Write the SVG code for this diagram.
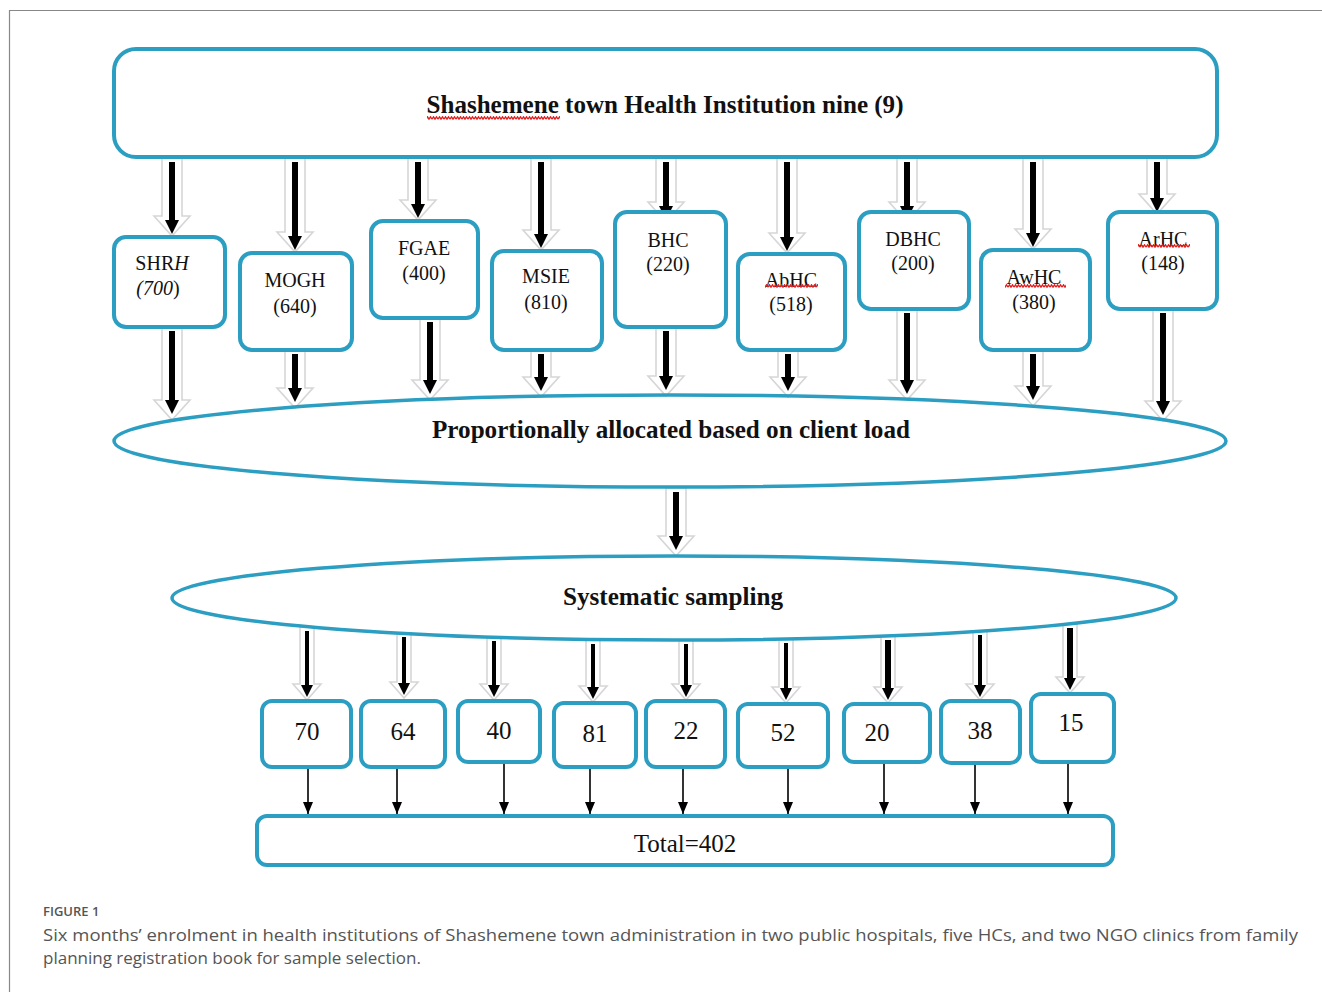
<svg xmlns="http://www.w3.org/2000/svg" width="1322" height="992" viewBox="0 0 1322 992">
<style>
.box{fill:#fff;stroke:#2b9ec1;stroke-width:4}
.ga{fill:#fff;stroke:#d6d6d6;stroke-width:1.6}
.bk{stroke:#000;stroke-width:6}
.bks{stroke:#000;stroke-width:4}
.bh{fill:#000}
.thin{stroke:#000;stroke-width:1.6;marker-end:url(#ah)}
.lbl{font-family:"Liberation Serif","Times New Roman",serif;font-size:20px;fill:#111;text-anchor:middle}
.num{font-family:"Liberation Serif","Times New Roman",serif;font-size:25px;fill:#111;text-anchor:middle}
.ttl{font-family:"Liberation Serif","Times New Roman",serif;font-size:25px;font-weight:bold;fill:#111;text-anchor:middle}
.cap{font-family:"Open Sans","Noto Sans",sans-serif;fill:#555}
.sq{fill:url(#squig)}
</style>
<defs>
<marker id="ah" viewBox="0 0 12 10" refX="12" refY="5" markerWidth="12" markerHeight="10" markerUnits="userSpaceOnUse" orient="auto">
<path d="M0,0 L12,5 L0,10 Z" fill="#000"/>
</marker>
<pattern id="squig" x="0" y="0" width="6" height="4" patternUnits="userSpaceOnUse">
<path d="M0,3.2 L1.5,0.8 L3,3.2 L4.5,0.8 L6,3.2" fill="none" stroke="#e02020" stroke-width="1.3"/>
</pattern>
</defs>
<rect width="1322" height="992" fill="#fff"/>
<path d="M1322,10.5 H9.5 V992" fill="none" stroke="#888" stroke-width="1.2"/>

<g id="connectors">
<g id="c-top">
<polygon class="ga" points="162,158 182,158 182,216 190,216 172,236 154,216 162,216"/>
<line class="bk" x1="172" y1="162" x2="172" y2="222"/><polygon class="bh" points="165,220 179,220 172,234"/>
<polygon class="ga" points="285,158 305,158 305,232 313,232 295,252 277,232 285,232"/>
<line class="bk" x1="295" y1="162" x2="295" y2="238"/><polygon class="bh" points="288,236 302,236 295,250"/>
<polygon class="ga" points="408,158 428,158 428,200 436,200 418,220 400,200 408,200"/>
<line class="bk" x1="418" y1="162" x2="418" y2="206"/><polygon class="bh" points="411,204 425,204 418,218"/>
<polygon class="ga" points="531,158 551,158 551,230 559,230 541,250 523,230 531,230"/>
<line class="bk" x1="541" y1="162" x2="541" y2="236"/><polygon class="bh" points="534,234 548,234 541,248"/>
<polygon class="ga" points="656,158 676,158 676,202 684,202 666,222 648,202 656,202"/>
<line class="bk" x1="666" y1="162" x2="666" y2="208"/><polygon class="bh" points="659,206 673,206 666,220"/>
<polygon class="ga" points="777,158 797,158 797,233 805,233 787,253 769,233 777,233"/>
<line class="bk" x1="787" y1="162" x2="787" y2="239"/><polygon class="bh" points="780,237 794,237 787,251"/>
<polygon class="ga" points="897,158 917,158 917,202 925,202 907,222 889,202 897,202"/>
<line class="bk" x1="907" y1="162" x2="907" y2="208"/><polygon class="bh" points="900,206 914,206 907,220"/>
<polygon class="ga" points="1023,158 1043,158 1043,229 1051,229 1033,249 1015,229 1023,229"/>
<line class="bk" x1="1033" y1="162" x2="1033" y2="235"/><polygon class="bh" points="1026,233 1040,233 1033,247"/>
<polygon class="ga" points="1147,158 1167,158 1167,194 1175,194 1157,214 1139,194 1147,194"/>
<line class="bk" x1="1157" y1="162" x2="1157" y2="200"/><polygon class="bh" points="1150,198 1164,198 1157,212"/>
</g>
<g id="c-mid">
<polygon class="ga" points="162,327 182,327 182,400 190,400 172,420 154,400 162,400"/>
<line class="bk" x1="172" y1="331" x2="172" y2="402"/><polygon class="bh" points="165,400 179,400 172,414"/>
<polygon class="ga" points="285,350 305,350 305,388 313,388 295,408 277,388 285,388"/>
<line class="bk" x1="295" y1="354" x2="295" y2="390"/><polygon class="bh" points="288,388 302,388 295,402"/>
<polygon class="ga" points="420,318 440,318 440,380 448,380 430,400 412,380 420,380"/>
<line class="bk" x1="430" y1="322" x2="430" y2="382"/><polygon class="bh" points="423,380 437,380 430,394"/>
<polygon class="ga" points="531,350 551,350 551,377 559,377 541,397 523,377 531,377"/>
<line class="bk" x1="541" y1="354" x2="541" y2="379"/><polygon class="bh" points="534,377 548,377 541,391"/>
<polygon class="ga" points="656,327 676,327 676,376 684,376 666,396 648,376 656,376"/>
<line class="bk" x1="666" y1="331" x2="666" y2="378"/><polygon class="bh" points="659,376 673,376 666,390"/>
<polygon class="ga" points="778,350 798,350 798,377 806,377 788,397 770,377 778,377"/>
<line class="bk" x1="788" y1="354" x2="788" y2="379"/><polygon class="bh" points="781,377 795,377 788,391"/>
<polygon class="ga" points="897,309 917,309 917,380 925,380 907,400 889,380 897,380"/>
<line class="bk" x1="907" y1="313" x2="907" y2="382"/><polygon class="bh" points="900,380 914,380 907,394"/>
<polygon class="ga" points="1023,350 1043,350 1043,386 1051,386 1033,406 1015,386 1023,386"/>
<line class="bk" x1="1033" y1="354" x2="1033" y2="388"/><polygon class="bh" points="1026,386 1040,386 1033,400"/>
<polygon class="ga" points="1153,309 1173,309 1173,401 1181,401 1163,421 1145,401 1153,401"/>
<line class="bk" x1="1163" y1="313" x2="1163" y2="403"/><polygon class="bh" points="1156,401 1170,401 1163,415"/>
</g>
<g id="c-ell">
<polygon class="ga" points="666,488 686,488 686,536 694,536 676,556 658,536 666,536"/>
<line class="bk" x1="676" y1="492" x2="676" y2="538"/><polygon class="bh" points="669,536 683,536 676,550"/>
</g>
<g id="c-samp">
<polygon class="ga" points="300,627 314,627 314,684 321,684 307,700 293,684 300,684"/>
<line class="bks" x1="307" y1="631" x2="307" y2="686"/><polygon class="bh" points="301,685 313,685 307,697"/>
<polygon class="ga" points="397,633 411,633 411,682 418,682 404,698 390,682 397,682"/>
<line class="bks" x1="404" y1="637" x2="404" y2="684"/><polygon class="bh" points="398,683 410,683 404,695"/>
<polygon class="ga" points="487,637 501,637 501,684 508,684 494,700 480,684 487,684"/>
<line class="bks" x1="494" y1="641" x2="494" y2="686"/><polygon class="bh" points="488,685 500,685 494,697"/>
<polygon class="ga" points="586,640 600,640 600,686 607,686 593,702 579,686 586,686"/>
<line class="bks" x1="593" y1="644" x2="593" y2="688"/><polygon class="bh" points="587,687 599,687 593,699"/>
<polygon class="ga" points="679,640 693,640 693,684 700,684 686,700 672,684 679,684"/>
<line class="bks" x1="686" y1="644" x2="686" y2="686"/><polygon class="bh" points="680,685 692,685 686,697"/>
<polygon class="ga" points="779,639 793,639 793,687 800,687 786,703 772,687 779,687"/>
<line class="bks" x1="786" y1="643" x2="786" y2="689"/><polygon class="bh" points="780,688 792,688 786,700"/>
<polygon class="ga" points="881,636 895,636 895,687 902,687 888,703 874,687 881,687"/>
<line class="bk" x1="888" y1="640" x2="888" y2="689"/><polygon class="bh" points="882,688 894,688 888,700"/>
<polygon class="ga" points="973,631 987,631 987,684 994,684 980,700 966,684 973,684"/>
<line class="bks" x1="980" y1="635" x2="980" y2="686"/><polygon class="bh" points="974,685 986,685 980,697"/>
<polygon class="ga" points="1063,624 1077,624 1077,677 1084,677 1070,693 1056,677 1063,677"/>
<line class="bk" x1="1070" y1="628" x2="1070" y2="679"/><polygon class="bh" points="1064,678 1076,678 1070,690"/>
</g>
<g id="c-total">
<line class="thin" x1="308" y1="767" x2="308" y2="814"/>
<line class="thin" x1="397" y1="767" x2="397" y2="814"/>
<line class="thin" x1="504" y1="762" x2="504" y2="814"/>
<line class="thin" x1="590" y1="767" x2="590" y2="814"/>
<line class="thin" x1="683" y1="767" x2="683" y2="814"/>
<line class="thin" x1="788" y1="767" x2="788" y2="814"/>
<line class="thin" x1="884" y1="762" x2="884" y2="814"/>
<line class="thin" x1="975" y1="764" x2="975" y2="814"/>
<line class="thin" x1="1068" y1="762" x2="1068" y2="814"/>
</g>
</g>

<g id="n-top">
<rect class="box" x="114" y="49" width="1103" height="108" rx="22"/>
<text class="ttl" x="665" y="113" textLength="477" lengthAdjust="spacingAndGlyphs">Shashemene town Health Institution nine (9)</text>
<rect class="sq" x="427" y="116" width="133" height="4"/>
</g>
<g id="n-shrh"><rect class="box" x="114" y="237" width="111" height="90" rx="12"/>
<text class="lbl" x="162" y="270">SHR<tspan font-style="italic">H</tspan></text>
<text class="lbl" x="158" y="295"><tspan font-style="italic">(700</tspan>)</text></g>
<g id="n-mogh"><rect class="box" x="240" y="253" width="112" height="97" rx="12"/>
<text class="lbl" x="295" y="287">MOGH</text><text class="lbl" x="295" y="313">(640)</text></g>
<g id="n-fgae"><rect class="box" x="371" y="221" width="107" height="97" rx="12"/>
<text class="lbl" x="424" y="255">FGAE</text><text class="lbl" x="424" y="280">(400)</text></g>
<g id="n-msie"><rect class="box" x="492" y="251" width="110" height="99" rx="12"/>
<text class="lbl" x="546" y="283">MSIE</text><text class="lbl" x="546" y="309">(810)</text></g>
<g id="n-bhc"><rect class="box" x="615" y="212" width="111" height="115" rx="12"/>
<text class="lbl" x="668" y="247">BHC</text><text class="lbl" x="668" y="271">(220)</text></g>
<g id="n-abhc"><rect class="box" x="738" y="254" width="107" height="96" rx="12"/>
<text class="lbl" x="791" y="287">AbHC</text><text class="lbl" x="791" y="311">(518)</text>
<rect class="sq" x="765" y="284" width="53" height="4"/></g>
<g id="n-dbhc"><rect class="box" x="859" y="212" width="110" height="97" rx="12"/>
<text class="lbl" x="913" y="246">DBHC</text><text class="lbl" x="913" y="270">(200)</text></g>
<g id="n-awhc"><rect class="box" x="981" y="250" width="109" height="100" rx="12"/>
<text class="lbl" x="1034" y="284">AwHC</text><text class="lbl" x="1034" y="309">(380)</text>
<rect class="sq" x="1005" y="284" width="61" height="4"/></g>
<g id="n-arhc"><rect class="box" x="1108" y="212" width="109" height="97" rx="12"/>
<text class="lbl" x="1163" y="246">ArHC</text><text class="lbl" x="1163" y="270">(148)</text>
<rect class="sq" x="1138" y="244" width="52" height="4"/></g>

<g id="n-prop"><ellipse class="box" cx="670" cy="441" rx="556" ry="46" style="fill:none;stroke-width:3.5"/>
<text class="ttl" x="671" y="438" textLength="478" lengthAdjust="spacingAndGlyphs">Proportionally allocated based on client load</text></g>
<g id="n-sys"><ellipse class="box" cx="674" cy="598" rx="502" ry="42" style="fill:none;stroke-width:3.5"/>
<text class="ttl" x="673" y="605" textLength="220" lengthAdjust="spacingAndGlyphs">Systematic sampling</text></g>

<g id="n-s70"><rect class="box" x="262" y="701" width="89" height="66" rx="10"/><text class="num" x="307" y="740">70</text></g>
<g id="n-s64"><rect class="box" x="361" y="701" width="84" height="66" rx="10"/><text class="num" x="403" y="740">64</text></g>
<g id="n-s40"><rect class="box" x="458" y="701" width="82" height="61" rx="10"/><text class="num" x="499" y="739">40</text></g>
<g id="n-s81"><rect class="box" x="554" y="703" width="82" height="64" rx="10"/><text class="num" x="595" y="742">81</text></g>
<g id="n-s22"><rect class="box" x="646" y="701" width="79" height="66" rx="10"/><text class="num" x="686" y="739">22</text></g>
<g id="n-s52"><rect class="box" x="738" y="704" width="90" height="63" rx="10"/><text class="num" x="783" y="741">52</text></g>
<g id="n-s20"><rect class="box" x="844" y="704" width="86" height="58" rx="10"/><text class="num" x="877" y="741">20</text></g>
<g id="n-s38"><rect class="box" x="941" y="701" width="79" height="62" rx="10"/><text class="num" x="980" y="739">38</text></g>
<g id="n-s15"><rect class="box" x="1031" y="694" width="83" height="68" rx="10"/><text class="num" x="1071" y="731">15</text></g>

<g id="n-total"><rect class="box" x="257" y="816" width="856" height="49" rx="10"/>
<text class="num" x="685" y="852">Total=402</text></g>

<g id="caption">
<text class="cap" x="43" y="916" font-size="13" font-weight="600" fill="#666">FIGURE 1</text>
<text class="cap" x="43" y="941" font-size="17" textLength="1255" lengthAdjust="spacingAndGlyphs">Six months’ enrolment in health institutions of Shashemene town administration in two public hospitals, five HCs, and two NGO clinics from family</text>
<text class="cap" x="43" y="964" font-size="17">planning registration book for sample selection.</text>
</g>
</svg>
